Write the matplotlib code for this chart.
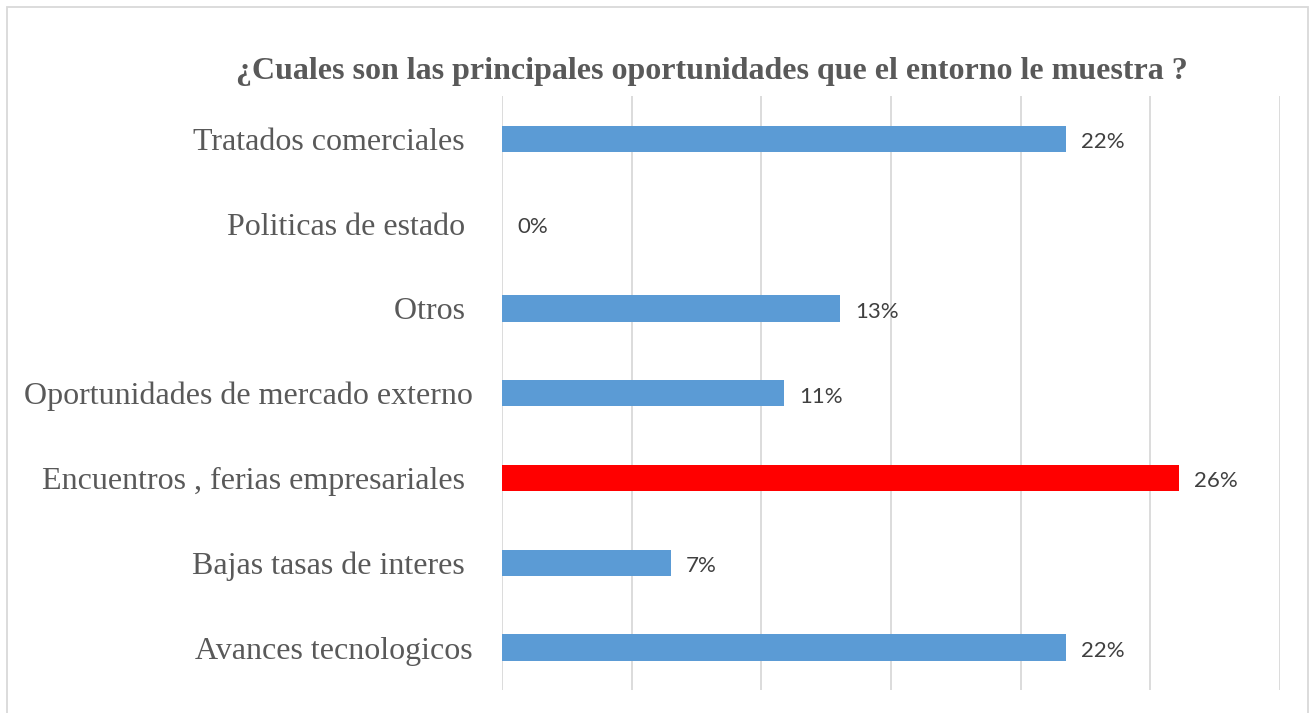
import matplotlib
matplotlib.use("Agg")
from matplotlib import pyplot as plt
from matplotlib.patches import Rectangle

TITLE = "¿Cuales son las principales oportunidades que el entorno le muestra ?"

# top to bottom, as in the reference
categories = [
    "Tratados comerciales ",
    "Politicas de estado ",
    "Otros ",
    "Oportunidades de mercado externo",
    "Encuentros , ferias empresariales ",
    "Bajas tasas de interes ",
    "Avances tecnologicos",
]
values = [21.74, 0.0, 13.04, 10.87, 26.09, 6.52, 21.74]  # percent
bar_colors = ['#5B9BD5', '#5B9BD5', '#5B9BD5', '#5B9BD5', '#FF0000', '#5B9BD5', '#5B9BD5']

TEXT_COLOR = '#595959'
GRID_COLOR = '#D9D9D9'

fig = plt.figure(figsize=(13.16, 7.13), dpi=100)
ax = fig.add_axes([0.3815, 0.0323, 0.5911, 0.8324])

y = list(range(len(categories)))
ax.barh(y, values, height=0.31, color=bar_colors, zorder=3)

for yi, v in zip(y, values):
    ax.text(v + 0.58, yi + 0.04, "%d%%" % round(v), va='center', ha='left',
            fontsize=16, family='Lato', color='#404040')

ax.set_xlim(0, 30)
ax.set_ylim(len(categories) - 0.5, -0.5)
ax.set_xticks(range(0, 31, 5))
ax.set_xticklabels([])
ax.tick_params(axis='x', length=0)
ax.tick_params(axis='y', length=0, pad=21)
ax.set_yticks(y)
ax.set_yticklabels(categories, family='Liberation Serif', fontsize=23, color=TEXT_COLOR)
ax.grid(axis='x', color=GRID_COLOR, linewidth=1.3, zorder=0)
for s in ax.spines.values():
    s.set_visible(False)

fig.text(0.541, 0.9, TITLE, ha='center', va='center', family='Liberation Serif',
         fontsize=23, fontweight='bold', color=TEXT_COLOR)

# light border around the whole chart
fig.patches.append(Rectangle((7 / 1316, -0.05), 1301 / 1316, 1.05 - 7 / 713,
                             transform=fig.transFigure, fill=False,
                             edgecolor='#D9D9D9', linewidth=1.3))

fig.savefig("out.png", dpi=100)
